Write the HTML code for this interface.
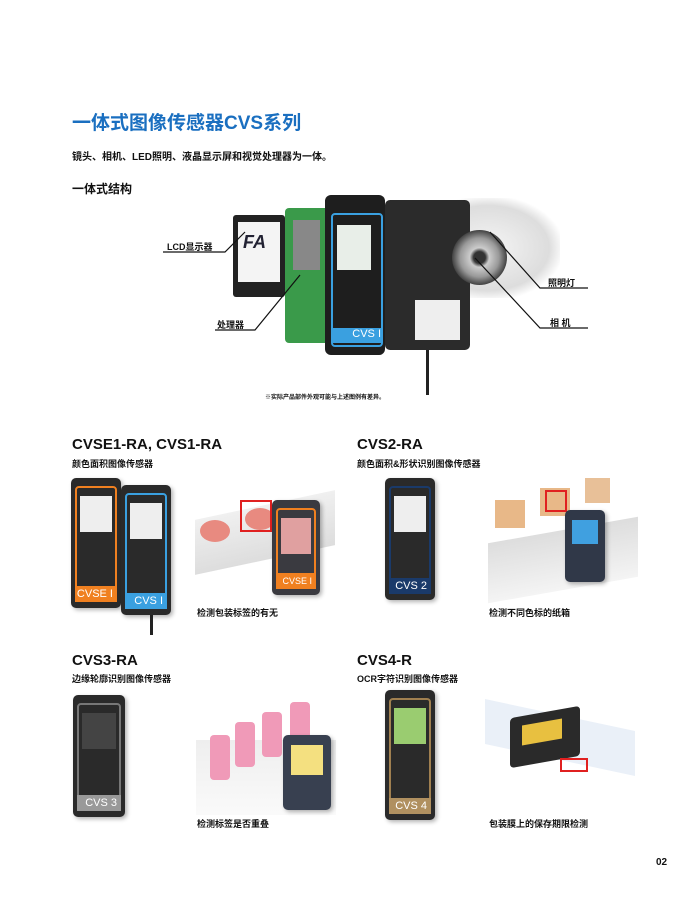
<!DOCTYPE html>
<html><head><meta charset="utf-8"><style>
body{margin:0;width:700px;height:900px;background:#fff;position:relative;overflow:hidden;font-family:"Liberation Sans","Noto Sans CJK SC",sans-serif;}
.a{position:absolute;}
.t{position:absolute;font-weight:bold;color:#111;white-space:nowrap;}
.dev{position:absolute;background:#2a2a2a;border-radius:5px;box-shadow:2px 2px 4px rgba(0,0,0,.3);}
.fr{position:absolute;left:4px;right:4px;top:8px;bottom:6px;border:2px solid;border-radius:4px;}
.scr{position:absolute;left:9px;right:9px;top:18px;height:36px;background:#eee;}
.lab{position:absolute;left:4px;right:4px;bottom:6px;height:16px;color:#fff;font-size:11px;text-align:right;padding-right:4px;box-sizing:border-box;line-height:16px;}
.btn{position:absolute;width:9px;height:9px;border-radius:50%;border:1px solid #777;}
</style></head><body>
<div class="t" style="left:72px;top:108px;font-size:19px;color:#1a6fc0;">一体式图像传感器CVS系列</div>
<div class="t" style="left:72px;top:148px;font-size:10px;">镜头、相机、LED照明、液晶显示屏和视觉处理器为一体。</div>
<div class="t" style="left:72px;top:180px;font-size:12px;">一体式结构</div>

<!-- main composite -->
<div class="a" style="left:440px;top:198px;width:120px;height:100px;background:radial-gradient(ellipse at 40% 50%,#f5f5f5,#ddd 60%,#fff 75%);border-radius:20px;"></div>
<div class="a" style="left:233px;top:215px;width:52px;height:82px;background:#222;border-radius:3px;"></div>
<div class="a" style="left:238px;top:222px;width:42px;height:60px;background:#f4f4f4;"></div>
<div class="a" style="left:243px;top:232px;font-size:18px;font-weight:bold;color:#223;font-style:italic;">FA</div>
<div class="a" style="left:285px;top:208px;width:45px;height:135px;background:#3a9a4a;border-radius:4px;"></div>
<div class="a" style="left:293px;top:220px;width:27px;height:50px;background:#888;"></div>
<div class="a" style="left:325px;top:195px;width:60px;height:160px;background:#1e1e1e;border-radius:6px;"></div>
<div class="a" style="left:331px;top:213px;width:48px;height:130px;border:2px solid #3aa0e0;border-radius:4px;"></div>
<div class="a" style="left:337px;top:225px;width:34px;height:45px;background:#e8eee8;"></div>
<div class="a" style="left:333px;top:328px;width:48px;height:15px;background:#3aa0e0;color:#fff;font-size:11px;text-align:right;">CVS I</div>
<div class="a" style="left:385px;top:200px;width:85px;height:150px;background:#2b2b2b;border-radius:5px;"></div>
<div class="a" style="left:415px;top:300px;width:45px;height:40px;background:#eee;"></div>
<div class="a" style="left:452px;top:230px;width:55px;height:55px;border-radius:50%;background:radial-gradient(circle,#333 15%,#ccc 25%,#999 50%,#444 70%);"></div>
<div class="a" style="left:426px;top:350px;width:3px;height:45px;background:#222;"></div>
<svg class="a" style="left:0;top:0" width="700" height="900">
<g stroke="#111" stroke-width="1.2" fill="none">
<polyline points="163,252 225,252 245,232"/>
<polyline points="215,330 255,330 300,275"/>
<polyline points="588,288 540,288 490,232"/>
<polyline points="588,328 540,328 475,258"/>
</g></svg>
<div class="t" style="left:167px;top:240px;font-size:9px;">LCD显示器</div>
<div class="t" style="left:217px;top:318px;font-size:9px;">处理器</div>
<div class="t" style="left:548px;top:276px;font-size:9px;">照明灯</div>
<div class="t" style="left:550px;top:316px;font-size:9px;">相 机</div>
<div class="t" style="left:265px;top:392px;font-size:6px;">※实际产品部件外观可能与上述图例有差异。</div>

<!-- row 1 -->
<div class="t" style="left:72px;top:436px;font-size:15px;">CVSE1-RA, CVS1-RA</div>
<div class="t" style="left:72px;top:457px;font-size:9px;">颜色面积图像传感器</div>
<div class="t" style="left:357px;top:436px;font-size:15px;">CVS2-RA</div>
<div class="t" style="left:357px;top:457px;font-size:9px;">颜色面积&amp;形状识别图像传感器</div>

<div class="dev" style="left:71px;top:478px;width:50px;height:130px;"><div class="fr" style="border-color:#f08020"></div><div class="scr"></div><div class="lab" style="background:#f08020">CVSE I</div></div>
<div class="dev" style="left:121px;top:485px;width:50px;height:130px;"><div class="fr" style="border-color:#3aa0e0"></div><div class="scr"></div><div class="lab" style="background:#3aa0e0">CVS I</div></div>
<div class="a" style="left:150px;top:615px;width:3px;height:20px;background:#222"></div>
<div class="a" style="left:195px;top:505px;width:140px;height:55px;background:linear-gradient(#f0f0f0,#ddd);transform:skewY(-12deg);"></div>
<div class="a" style="left:200px;top:520px;width:30px;height:22px;border-radius:50%;background:#e88a80;"></div>
<div class="a" style="left:245px;top:508px;width:30px;height:22px;border-radius:50%;background:#e88a80;"></div>
<div class="a" style="left:240px;top:500px;width:28px;height:28px;border:2px solid #e02020;"></div>
<div class="dev" style="left:272px;top:500px;width:48px;height:95px;background:#3a3a40;"><div class="fr" style="border-color:#f08020"></div><div class="scr" style="background:#e0a0a0"></div><div class="lab" style="background:#f08020;font-size:9px">CVSE I</div></div>
<div class="t" style="left:197px;top:606px;font-size:9px;">检测包装标签的有无</div>

<div class="dev" style="left:385px;top:478px;width:50px;height:122px;"><div class="fr" style="border-color:#1a3a6a"></div><div class="scr"></div><div class="lab" style="background:#1a3a6a">CVS 2</div></div>
<div class="a" style="left:488px;top:530px;width:150px;height:60px;background:linear-gradient(#ddd,#f4f4f4);transform:skewY(-10deg);"></div>
<div class="a" style="left:495px;top:500px;width:30px;height:28px;background:#e8b888;"></div>
<div class="a" style="left:540px;top:488px;width:30px;height:28px;background:#e8b888;"></div>
<div class="a" style="left:585px;top:478px;width:25px;height:25px;background:#e8c098;"></div>
<div class="a" style="left:545px;top:490px;width:18px;height:18px;border:2px solid #e02020;"></div>
<div class="dev" style="left:565px;top:510px;width:40px;height:72px;background:#303848;"><div class="scr" style="left:7px;right:7px;top:10px;height:24px;background:#40a0e0"></div></div>
<div class="t" style="left:489px;top:606px;font-size:9px;">检测不同色标的纸箱</div>

<!-- row 2 -->
<div class="t" style="left:72px;top:652px;font-size:15px;">CVS3-RA</div>
<div class="t" style="left:72px;top:672px;font-size:9px;">边缘轮廓识别图像传感器</div>
<div class="t" style="left:357px;top:652px;font-size:15px;">CVS4-R</div>
<div class="t" style="left:357px;top:672px;font-size:9px;">OCR字符识别图像传感器</div>

<div class="dev" style="left:73px;top:695px;width:52px;height:122px;"><div class="fr" style="border-color:#777"></div><div class="scr" style="background:#444"></div><div class="lab" style="background:#999">CVS 3</div></div>
<div class="a" style="left:196px;top:740px;width:140px;height:75px;background:linear-gradient(#eee,#fafafa);"></div>
<div class="a" style="left:210px;top:735px;width:20px;height:45px;background:#f09ab8;border-radius:4px;"></div>
<div class="a" style="left:235px;top:722px;width:20px;height:45px;background:#f09ab8;border-radius:4px;"></div>
<div class="a" style="left:262px;top:712px;width:20px;height:45px;background:#f09ab8;border-radius:4px;"></div>
<div class="a" style="left:290px;top:702px;width:20px;height:40px;background:#f09ab8;border-radius:4px;"></div>
<div class="dev" style="left:283px;top:735px;width:48px;height:75px;background:#384050;"><div class="scr" style="left:8px;right:8px;top:10px;height:30px;background:#f4e080"></div></div>
<div class="t" style="left:197px;top:817px;font-size:9px;">检测标签是否重叠</div>

<div class="dev" style="left:385px;top:690px;width:50px;height:130px;"><div class="fr" style="border-color:#a08050"></div><div class="scr" style="background:#9acc70"></div><div class="lab" style="background:#b09060">CVS 4</div></div>
<div class="a" style="left:485px;top:715px;width:150px;height:45px;background:#eaf0f8;transform:skewY(12deg);"></div>
<div class="a" style="left:510px;top:712px;width:70px;height:50px;background:#2a2a2a;transform:skewY(-10deg);border-radius:4px;"></div>
<div class="a" style="left:522px;top:722px;width:40px;height:20px;background:#e8c040;transform:skewY(-10deg);"></div>
<div class="a" style="left:560px;top:758px;width:24px;height:10px;border:2px solid #e02020;"></div>
<div class="t" style="left:489px;top:817px;font-size:9px;">包装膜上的保存期限检测</div>

<div class="t" style="left:656px;top:857px;font-size:10px;">02</div>
</body></html>
